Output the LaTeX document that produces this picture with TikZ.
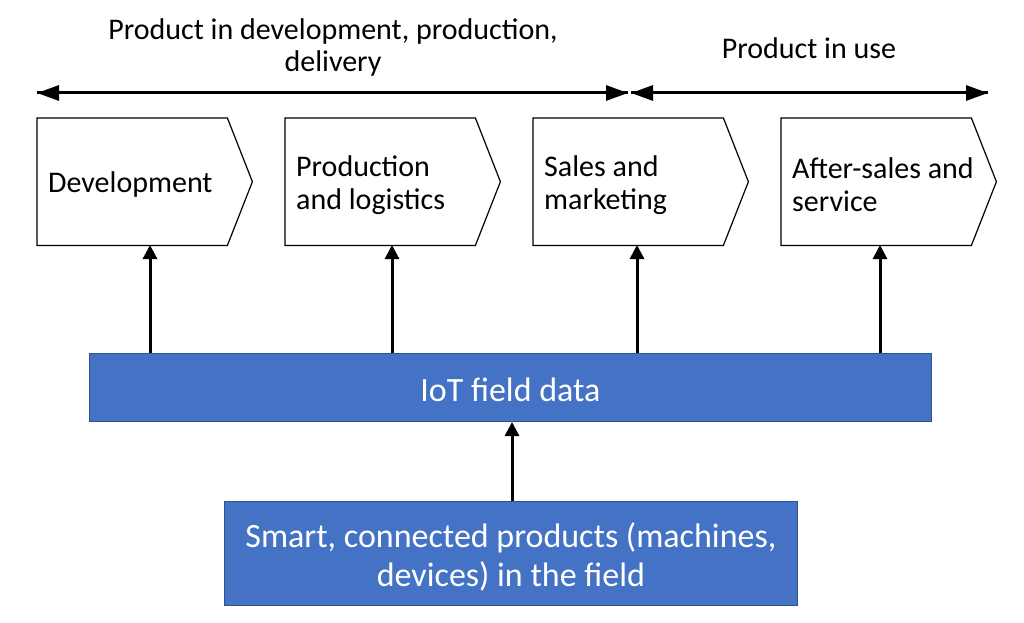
\documentclass[tikz,border=0pt]{standalone}
\usepackage{fontspec}
\setmainfont{Carlito}
\usetikzlibrary{arrows.meta,calc}
\definecolor{iotblue}{HTML}{4472C4}
\definecolor{iotedge}{HTML}{2F528F}
\tikzset{
  stagebox/.style={minimum width=190pt,minimum height=127pt,inner sep=0pt,anchor=north west},
  stagetext/.style={inner xsep=11pt,inner ysep=0pt,align=left,anchor=west,font=\fontsize{30}{33}\selectfont},
  chevron/.style={draw=black,line width=1.2pt,fill=white},
  bluebox/.style={fill=iotblue,draw=iotedge,line width=0.8pt},
  bluetext/.style={text=white,align=center,font=\fontsize{34}{39}\selectfont},
  uparrow/.style={line width=3pt,-{Triangle[length=14pt,width=14pt]}},
  phasearrow/.style={line width=3pt,-{Triangle[length=22pt,width=15pt]}},
  phaselabel/.style={align=center,font=\fontsize{30}{32}\selectfont}
}
\begin{document}
\begin{tikzpicture}[x=1pt,y=1pt]
\useasboundingbox (0,0) rectangle (1024,622);
% stages
\foreach \n/\x/\t in {dev/37/Development,prod/285/{Production\\and logistics},sales/533/{Sales and\\marketing},after/781/{After-sales and\\service}}{
  \node[stagebox] (\n) at (\x,504) {};
  \draw[chevron] (\n.north west) -- (\n.north east) -- ($(\n.east)+(25,0)$) -- (\n.south east) -- (\n.south west) -- cycle;
  \node[stagetext] at ($(\n.west)+(0,-3)$) {\t};
}
% phase labels
\node[phaselabel] (phase1) at (333,574) {Product in development, production,\\delivery};
\node[phaselabel] (phase2) at (809,574) {Product in use};
\coordinate (pa) at (37,529);
\coordinate (pb) at (628,529);
\coordinate (pc) at (631,529);
\coordinate (pd) at (988,529);
\draw[phasearrow] (pb) -- (pa);
\draw[phasearrow] (pa) -- (pb);
\draw[phasearrow] (pd) -- (pc);
\draw[phasearrow] (pc) -- (pd);
% IoT bar
\node[bluebox,minimum width=842pt,minimum height=68pt,anchor=south west] (iot) at (89,200) {};
\node[bluetext] at ($(iot.center)+(0,-2)$) {IoT field data};
% products
\node[bluebox,minimum width=573pt,minimum height=104pt,anchor=south west] (smart) at (224,16) {};
\node[bluetext] at ($(smart.center)+(0,-3)$) {Smart, connected products (machines,\\devices) in the field};
% arrows
\draw[uparrow] (iot.north -| 150,0) -- (150,377);
\draw[uparrow] (iot.north -| 392,0) -- (392,377);
\draw[uparrow] (iot.north -| 637,0) -- (637,377);
\draw[uparrow] (iot.north -| 880,0) -- (880,377);
\draw[uparrow] (smart.north -| 512,0) -- (iot.south -| 512,0);
\end{tikzpicture}
\end{document}
